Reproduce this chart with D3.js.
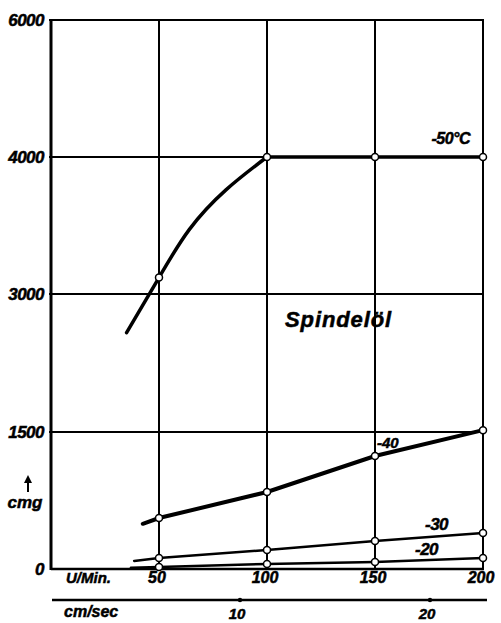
<!DOCTYPE html>
<html>
<head>
<meta charset="utf-8">
<script src="https://cdn.jsdelivr.net/npm/d3@7"></script>
<style>
  body { margin: 0; background: #fff; }
  svg text { font-family: 'Liberation Sans', Arial, sans-serif; font-weight: bold; font-style: italic; fill: #000; stroke: #000; stroke-width: 0.5px; }
</style>
</head>
<body>
<svg></svg>
<script>
'use strict';
// Tick values
var yTicks = [0, 1500, 3000, 4000, 6000];
var xTicks = [50, 100, 150, 200];
var speedTicks = [10, 20];

// Series (U/Min. -> cmg)
var m50X = [35, 50, 64, 81, 100, 150, 200];
var m50Y = [2580, 3120, 3470, 3760, 4000, 4000, 4000];
var m40X = [42.5, 50, 100, 150, 200];
var m40Y = [495, 558, 843, 1237, 1520];
var m30X = [38.5, 50, 100, 150, 200];
var m30Y = [88, 120, 208, 307, 394];
var m20X = [37, 50, 100, 150, 200];
var m20Y = [15, 22, 55, 77, 120];
var markerX = [50, 100, 150, 200];

var svg = d3.select('svg')
  .attr('width', 501)
  .attr('height', 623);

var xScale = d3.scaleLinear().domain([0, 200]).range([51, 483]);
// The printed scale is not linear: every labelled value has the same spacing
var yScale = d3.scaleLinear().domain(yTicks).range([569, 432, 294, 157, 20]);
var speedScale = d3.scaleLinear().domain([0, 20]).range([50, 430]);

// Grid
svg.append('g').selectAll('line').data(yTicks.slice(1))
  .enter().append('line')
  .attr('x1', xScale(0) - 2).attr('x2', xScale(200) + 1)
  .attr('y1', function(d) { return yScale(d); })
  .attr('y2', function(d) { return yScale(d); })
  .attr('stroke', '#000').attr('stroke-width', 2);

svg.append('g').selectAll('line').data(xTicks)
  .enter().append('line')
  .attr('x1', function(d) { return xScale(d); })
  .attr('x2', function(d) { return xScale(d); })
  .attr('y1', yScale(6000) - 1).attr('y2', yScale(0))
  .attr('stroke', '#000').attr('stroke-width', 2);

// Axes frame
svg.append('line')
  .attr('x1', xScale(0)).attr('x2', xScale(0))
  .attr('y1', yScale(6000) - 1).attr('y2', yScale(0) + 1)
  .attr('stroke', '#000').attr('stroke-width', 3);
svg.append('line')
  .attr('x1', xScale(0)).attr('x2', xScale(200) + 1)
  .attr('y1', yScale(0)).attr('y2', yScale(0))
  .attr('stroke', '#000').attr('stroke-width', 2.5);

// Y labels
svg.append('g').selectAll('text').data(yTicks)
  .enter().append('text')
  .attr('x', 44)
  .attr('y', function(d) { return yScale(d); })
  .attr('dy', '0.36em')
  .attr('text-anchor', 'end')
  .attr('font-size', 17)
  .attr('letter-spacing', -0.5)
  .text(function(d) { return d; });

// unit with arrow
svg.append('line')
  .attr('x1', 28).attr('x2', 28).attr('y1', 492).attr('y2', 480)
  .attr('stroke', '#000').attr('stroke-width', 2);
svg.append('path')
  .attr('d', 'M24,483 L28,475 L32,483 Z')
  .attr('fill', '#000');
svg.append('text')
  .attr('x', 25).attr('y', 508)
  .attr('text-anchor', 'middle')
  .attr('font-size', 17)
  .text('cmg');

// X labels
svg.append('text')
  .attr('x', 66).attr('y', 583)
  .attr('font-size', 15)
  .text('U/Min.');
svg.append('g').selectAll('text').data(xTicks)
  .enter().append('text')
  .attr('x', function(d) { return xScale(d) - 2; })
  .attr('y', 583)
  .attr('text-anchor', 'middle')
  .attr('font-size', 16)
  .text(function(d) { return d; });

// second scale (cm/sec)
svg.append('line')
  .attr('x1', 52).attr('x2', 487)
  .attr('y1', 600).attr('y2', 600)
  .attr('stroke', '#000').attr('stroke-width', 2.5);
svg.append('g').selectAll('circle').data(speedTicks)
  .enter().append('circle')
  .attr('cx', function(d) { return speedScale(d); })
  .attr('cy', 600)
  .attr('r', 2.2)
  .attr('fill', '#000');
svg.append('text')
  .attr('x', 64).attr('y', 617)
  .attr('font-size', 16)
  .text('cm/sec');
svg.append('g').selectAll('text').data(speedTicks)
  .enter().append('text')
  .attr('x', function(d) { return speedScale(d) - 3; })
  .attr('y', 619)
  .attr('text-anchor', 'middle')
  .attr('font-size', 15)
  .text(function(d) { return d; });

// Curves
var series = [
  { xs: m50X, ys: m50Y, width: 3.5, smoothTo: 4 },
  { xs: m40X, ys: m40Y, width: 4, smoothTo: 0 },
  { xs: m30X, ys: m30Y, width: 2.5, smoothTo: 0 },
  { xs: m20X, ys: m20Y, width: 2.5, smoothTo: 0 }
];

var smoothLine = d3.line()
  .x(function(d) { return xScale(d[0]); })
  .y(function(d) { return yScale(d[1]); })
  .curve(d3.curveNatural);
var straightLine = d3.line()
  .x(function(d) { return xScale(d[0]); })
  .y(function(d) { return yScale(d[1]); });

series.forEach(function(s) {
  var pts = s.xs.map(function(x, i) { return [x, s.ys[i]]; });
  var parts = [];
  if (s.smoothTo > 0) {
    parts.push(smoothLine(pts.slice(0, s.smoothTo + 1)));
  }
  parts.push(straightLine(pts.slice(s.smoothTo)));
  parts.forEach(function(p) {
    svg.append('path')
      .attr('d', p)
      .attr('fill', 'none')
      .attr('stroke', '#000')
      .attr('stroke-width', s.width)
      .attr('stroke-linecap', 'round');
  });

  // open circles only on the measured points
  var marks = pts.filter(function(d) { return markerX.indexOf(d[0]) >= 0; });
  svg.append('g').selectAll('circle').data(marks)
    .enter().append('circle')
    .attr('cx', function(d) { return xScale(d[0]); })
    .attr('cy', function(d) { return yScale(d[1]); })
    .attr('r', 3.5)
    .attr('fill', '#fff')
    .attr('stroke', '#000')
    .attr('stroke-width', 1.5);
});

// Curve labels
svg.append('text')
  .attr('x', xScale(200) - 13).attr('y', yScale(4000) - 13)
  .attr('text-anchor', 'end')
  .attr('font-size', 16)
  .attr('letter-spacing', -0.5)
  .text('-50°C');
svg.append('text')
  .attr('x', xScale(150) + 2).attr('y', 448)
  .attr('font-size', 15)
  .text('-40');
svg.append('text')
  .attr('x', 425).attr('y', 530)
  .attr('font-size', 17)
  .attr('letter-spacing', -0.5)
  .text('-30');
svg.append('text')
  .attr('x', 415).attr('y', 555)
  .attr('font-size', 17)
  .attr('letter-spacing', -0.5)
  .text('-20');

svg.append('text')
  .attr('x', 285).attr('y', 327)
  .attr('font-size', 22)
  .attr('letter-spacing', 0.9)
  .text('Spindelöl');
</script>
</body>
</html>
